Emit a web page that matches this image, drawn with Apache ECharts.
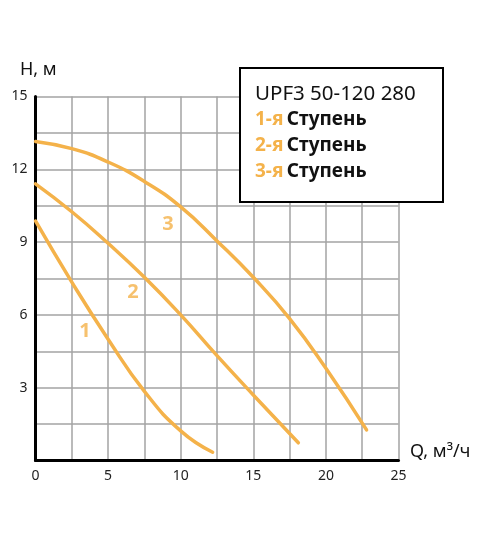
<!DOCTYPE html>
<html>
<head>
<meta charset="utf-8">
<script src="https://cdn.jsdelivr.net/npm/echarts@6/dist/echarts.min.js"></script>
<style>
html,body{margin:0;padding:0;background:#fff;}
#chart{width:500px;height:538px;}
</style>
</head>
<body>
<div id="chart"></div>
<script>
// Curve data [Q, H]
var stage1 = [[0,9.87],[2.5,7.35],[5,5.0],[7.5,2.85],[10,1.22],[12.2,0.34]];
var stage2 = [[0,11.4],[2.5,10.25],[5,8.95],[7.5,7.55],[10,6.0],[12.5,4.32],[15,2.7],[18.1,0.73]];
var stage3 = [[0,13.15],[2.5,12.85],[5,12.3],[7.5,11.5],[10,10.45],[12.5,9.05],[15,7.55],[17.5,5.85],[20,3.8],[22.8,1.26]];
var curveLabels = [[3.41,5.32,'1'],[6.71,6.92,'2'],[9.13,9.74,'3']];
var legendTitle = 'UPF3 50-120 280';
var legendItems = ['1-я','2-я','3-я'];
var legendWord = 'Ступень';

var ORANGE = '#F4B24A';
var FONT = 'Noto Sans';

var chart = echarts.init(document.getElementById('chart'));

function curve(data){
  return {type:'line', data:data, smooth:0.5, symbol:'none',
    lineStyle:{color:ORANGE,width:3.5,cap:'round'}, z:3};
}

var legendGraphics = [{
  type:'rect', left:239, top:67, z:10,
  shape:{width:203,height:134},
  style:{fill:'#fff',stroke:'#000',lineWidth:2}
},{
  type:'text', left:255, top:84, z:11,
  style:{text:legendTitle, font:'20.5px "Noto Sans"', fill:'#111'}
}];
legendItems.forEach(function(it,i){
  legendGraphics.push({
    type:'text', left:255, top:110+i*26, z:11,
    style:{
      text:'{a|'+it+'} {b|'+legendWord+'}',
      rich:{
        a:{fontFamily:FONT,fontSize:19,fontWeight:'bold',fill:ORANGE,color:ORANGE},
        b:{fontFamily:FONT,fontSize:19,fontWeight:'bold',fill:'#111',color:'#111'}
      }
    }
  });
});
legendGraphics.push({
  type:'text', left:20, top:61, z:11,
  style:{text:'H, м', font:'18px "Noto Sans"', fill:'#111'}
});
legendGraphics.push({
  type:'text', left:410, top:443, z:11,
  style:{text:'Q, м³/ч', font:'18px "Noto Sans"', fill:'#111'}
});

chart.setOption({
  animation:false,
  backgroundColor:'#fff',
  textStyle:{fontFamily:FONT},
  grid:{left:35.5, right:101.5, top:96.5, bottom:77.5, containLabel:false},
  xAxis:{
    type:'value', min:0, max:25, interval:2.5,
    axisLine:{show:true,onZero:false,lineStyle:{color:'#000',width:3}},
    axisTick:{show:false},
    splitLine:{show:true,lineStyle:{color:'#a3a3a3',width:1.5}},
    axisLabel:{fontSize:14,color:'#222',margin:9,fontFamily:FONT,
      formatter:function(v){return (Math.abs(v%5)<1e-6)?String(v):'';}}
  },
  yAxis:{
    type:'value', min:0, max:15, interval:1.5,
    axisLine:{show:true,onZero:false,lineStyle:{color:'#000',width:3}},
    axisTick:{show:false},
    splitLine:{show:true,lineStyle:{color:'#a3a3a3',width:1.5}},
    axisLabel:{fontSize:14,color:'#222',margin:8,fontFamily:FONT,
      formatter:function(v){return (v>0 && Math.abs(v%3)<1e-6)?String(v):'';}}
  },
  series:[
    curve(stage1), curve(stage2), curve(stage3),
    {type:'scatter', data:curveLabels, symbolSize:1, itemStyle:{color:'rgba(0,0,0,0)'},
     label:{show:true, position:'inside', formatter:function(p){return p.data[2];},
       fontFamily:FONT, fontSize:20, fontWeight:'bold', color:ORANGE}, z:4}
  ],
  graphic:legendGraphics
});
</script>
</body>
</html>
